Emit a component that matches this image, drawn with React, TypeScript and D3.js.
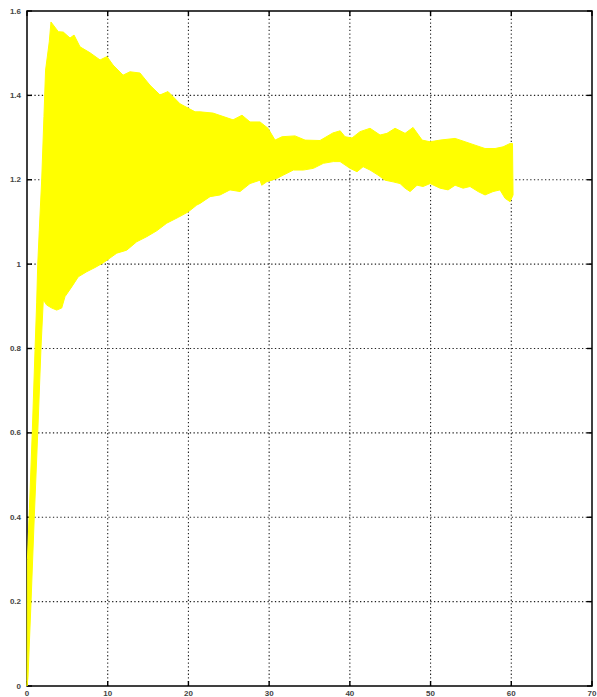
import React, { useEffect, useRef } from 'react';
import * as d3 from 'd3';

// upper envelope of the oscillating response [time, value]
const upperEnvelope: [number, number][] = [
  [0, 0], [0.05, 0.3], [0.3, 0.42], [0.65, 0.6], [1.0, 0.8], [1.2, 0.91], [1.33, 1.0],
  [1.52, 1.08], [1.82, 1.2], [2.1, 1.35], [2.3, 1.46], [2.76, 1.527], [2.97, 1.574],
  [3.88, 1.551], [4.5, 1.55], [5.33, 1.536], [5.83, 1.543], [6.57, 1.515], [7.81, 1.501],
  [9.05, 1.484], [9.91, 1.492], [10.66, 1.472], [11.9, 1.448], [12.76, 1.456], [14.0, 1.453],
  [15.24, 1.424], [16.48, 1.401], [17.47, 1.409], [18.96, 1.38], [20.82, 1.361], [21.44, 1.361],
  [23.05, 1.358], [25.53, 1.342], [26.64, 1.353], [27.63, 1.337], [28.87, 1.337], [29.86, 1.322],
  [30.73, 1.294], [31.6, 1.302], [33.2, 1.304], [34.45, 1.294], [36.3, 1.293], [37.9, 1.311],
  [38.8, 1.316], [39.4, 1.302], [40.27, 1.299], [41.26, 1.314], [42.5, 1.322], [43.74, 1.306],
  [44.6, 1.31], [45.6, 1.322], [46.84, 1.31], [47.83, 1.324], [48.95, 1.294], [49.94, 1.29],
  [51.18, 1.294], [53.04, 1.298], [54.28, 1.29], [55.51, 1.282], [56.75, 1.274], [57.99, 1.274],
  [58.98, 1.278], [59.85, 1.286], [60.15, 1.286],
];

// lower envelope [time, value]
const lowerEnvelope: [number, number][] = [
  [0, 0], [0.12, 0.02], [0.5, 0.2], [0.9, 0.4], [1.33, 0.6], [1.73, 0.8], [2.02, 0.915],
  [2.44, 0.903], [3.06, 0.896], [3.68, 0.891], [4.3, 0.896], [4.71, 0.923], [5.54, 0.946],
  [6.36, 0.97], [7.4, 0.982], [8.43, 0.992], [9.45, 1.003], [11.12, 1.026], [12.35, 1.033],
  [13.59, 1.053], [14.83, 1.065], [16.07, 1.079], [17.31, 1.097], [18.75, 1.111], [19.99, 1.124],
  [21.03, 1.14], [21.44, 1.144], [22.68, 1.16], [23.92, 1.164], [25.15, 1.176], [26.39, 1.172],
  [27.63, 1.191], [28.87, 1.199], [29.08, 1.187], [29.7, 1.195], [30.94, 1.203], [31.76, 1.211],
  [33.0, 1.223], [34.24, 1.223], [35.48, 1.227], [36.72, 1.239], [37.95, 1.243], [38.79, 1.243],
  [40.02, 1.227], [40.89, 1.219], [41.64, 1.231], [42.5, 1.223], [43.49, 1.211], [44.36, 1.199],
  [45.35, 1.195], [46.22, 1.191], [46.84, 1.18], [47.46, 1.172], [48.33, 1.187], [49.07, 1.184],
  [49.94, 1.191], [51.18, 1.18], [52.17, 1.176], [53.04, 1.187], [54.03, 1.18], [54.89, 1.184],
  [55.89, 1.172], [56.75, 1.164], [57.74, 1.172], [58.6, 1.176], [59.23, 1.156], [59.85, 1.148],
  [60.22, 1.164],
];

const xTicks = [0, 10, 20, 30, 40, 50, 60, 70];
const yTicks = [0, 0.2, 0.4, 0.6, 0.8, 1, 1.2, 1.4, 1.6];

const App = () => {
  const svgRef = useRef<SVGSVGElement>(null);

  useEffect(() => {
    const width = 597;
    const height = 697;
    const margin = { top: 11, right: 5, bottom: 11, left: 27 };

    const svg = d3.select(svgRef.current);
    svg.selectAll('*').remove();
    svg.attr('width', width).attr('height', height);

    const x = d3.scaleLinear().domain([0, 70]).range([margin.left, width - margin.right]);
    const y = d3.scaleLinear().domain([0, 1.6]).range([height - margin.bottom, margin.top]);

    const g = svg.append('g');

    // dotted grid
    xTicks.slice(1, -1).forEach((t) => {
      g.append('line')
        .attr('x1', x(t)).attr('x2', x(t))
        .attr('y1', y(0)).attr('y2', y(1.6))
        .attr('stroke', '#222')
        .attr('stroke-width', 1.1)
        .attr('stroke-dasharray', '1.3,2.4');
    });
    yTicks.slice(1, -1).forEach((t) => {
      g.append('line')
        .attr('x1', x(0)).attr('x2', x(70))
        .attr('y1', y(t)).attr('y2', y(t))
        .attr('stroke', '#222')
        .attr('stroke-width', 1.1)
        .attr('stroke-dasharray', '1.3,2.4');
    });

    // tick marks, inward on all four sides
    const tl = 5;
    xTicks.forEach((t) => {
      g.append('line').attr('x1', x(t)).attr('x2', x(t)).attr('y1', y(0)).attr('y2', y(0) - tl)
        .attr('stroke', '#000').attr('stroke-width', 1.4);
      g.append('line').attr('x1', x(t)).attr('x2', x(t)).attr('y1', y(1.6)).attr('y2', y(1.6) + tl)
        .attr('stroke', '#000').attr('stroke-width', 1.4);
    });
    yTicks.forEach((t) => {
      g.append('line').attr('x1', x(0)).attr('x2', x(0) + tl).attr('y1', y(t)).attr('y2', y(t))
        .attr('stroke', '#000').attr('stroke-width', 1.4);
      g.append('line').attr('x1', x(70)).attr('x2', x(70) - tl).attr('y1', y(t)).attr('y2', y(t))
        .attr('stroke', '#000').attr('stroke-width', 1.4);
    });

    // frame
    g.append('rect')
      .attr('x', x(0)).attr('y', y(1.6))
      .attr('width', x(70) - x(0)).attr('height', y(0) - y(1.6))
      .attr('fill', 'none')
      .attr('stroke', '#000')
      .attr('stroke-width', 1.5);

    // tick labels
    xTicks.forEach((t) => {
      g.append('text')
        .attr('x', x(t))
        .attr('y', y(0) + 10)
        .attr('text-anchor', 'middle')
        .attr('font-family', 'Liberation Sans, Arial, sans-serif')
        .attr('font-size', 8)
        .attr('font-weight', 'bold')
        .attr('fill', '#444')
        .text(t);
    });
    yTicks.forEach((t) => {
      g.append('text')
        .attr('x', x(0) - 6)
        .attr('y', y(t) + 2.5)
        .attr('text-anchor', 'end')
        .attr('font-family', 'Liberation Sans, Arial, sans-serif')
        .attr('font-size', 8)
        .attr('font-weight', 'bold')
        .attr('fill', '#444')
        .text(t);
    });

    // yellow band between the envelopes
    const band = upperEnvelope.concat(lowerEnvelope.slice().reverse());
    const line = d3.line<[number, number]>()
      .x((d) => x(d[0]))
      .y((d) => y(d[1]));
    g.append('path')
      .attr('d', line(band) + 'Z')
      .attr('fill', '#ffff00')
      .attr('stroke', '#ffff00')
      .attr('stroke-width', 1);
  }, []);

  return <svg ref={svgRef} style={{ position: 'absolute', left: 0, top: 0 }}></svg>;
};

export default App;
